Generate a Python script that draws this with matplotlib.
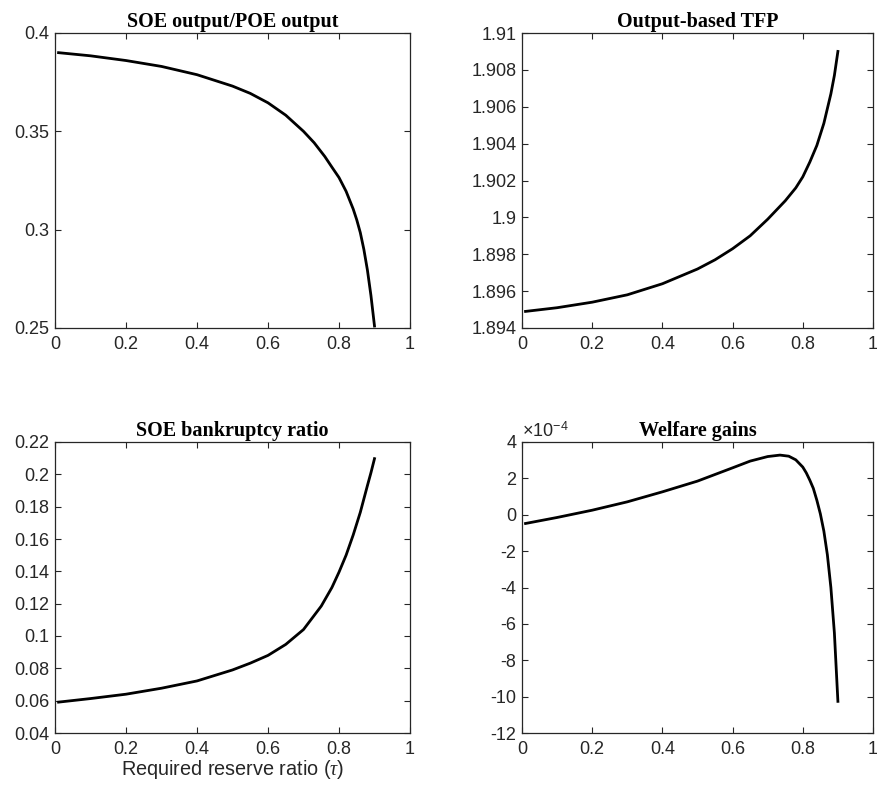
import matplotlib
matplotlib.use("Agg")
import matplotlib.pyplot as plt
from matplotlib.ticker import FuncFormatter

plt.rcParams['font.family'] = ['Liberation Sans', 'DejaVu Sans']
plt.rcParams['axes.unicode_minus'] = False
plt.rcParams['mathtext.fontset'] = 'custom'
plt.rcParams['mathtext.it'] = 'Liberation Serif:italic'
plt.rcParams['mathtext.rm'] = 'Liberation Sans'

# Data
tau_a = [0.01, 0.1, 0.2, 0.3, 0.4, 0.5, 0.55, 0.6, 0.65, 0.7, 0.73, 0.76, 0.78, 0.8,
         0.82, 0.84, 0.85, 0.86, 0.87, 0.88, 0.89, 0.9]
soe_poe = [0.3900, 0.3884, 0.3860, 0.3830, 0.3788, 0.3730, 0.3693, 0.3645, 0.3582,
           0.3500, 0.3442, 0.3372, 0.3318, 0.3265, 0.3195, 0.3105, 0.3050, 0.2985,
           0.2900, 0.2795, 0.2665, 0.2510]

tau_b = [0.01, 0.1, 0.2, 0.3, 0.4, 0.5, 0.55, 0.6, 0.65, 0.7, 0.75, 0.78, 0.8, 0.82,
         0.84, 0.86, 0.88, 0.89, 0.9]
tfp = [1.8949, 1.8951, 1.8954, 1.8958, 1.8964, 1.8972, 1.8977, 1.8983, 1.8990,
       1.8999, 1.9009, 1.9016, 1.9022, 1.9030, 1.9039, 1.9051, 1.9067, 1.9077, 1.9090]

tau_c = [0.01, 0.1, 0.2, 0.3, 0.4, 0.5, 0.55, 0.6, 0.65, 0.7, 0.75, 0.78, 0.8, 0.82,
         0.84, 0.86, 0.88, 0.89, 0.9]
bankruptcy = [0.0591, 0.0613, 0.0640, 0.0677, 0.0722, 0.0790, 0.0832, 0.0880,
              0.0948, 0.1040, 0.1185, 0.1300, 0.1395, 0.1500, 0.1625, 0.1765,
              0.1930, 0.2010, 0.2097]

tau_d = [0.01, 0.1, 0.2, 0.3, 0.4, 0.5, 0.6, 0.65, 0.7, 0.735, 0.76, 0.78, 0.8,
         0.81, 0.82, 0.83, 0.84, 0.85, 0.86, 0.87, 0.88, 0.89, 0.9]
welfare = [-0.48, -0.15, 0.25, 0.71, 1.26, 1.85, 2.58, 2.95, 3.20, 3.28, 3.22, 3.02,
           2.62, 2.30, 1.90, 1.45, 0.80, 0.05, -0.90, -2.20, -4.00, -6.50, -10.26]
welfare_scaled = [w * 1e-4 for w in welfare]

xticks = [0, 0.2, 0.4, 0.6, 0.8, 1]

fig = plt.figure(figsize=(8.77, 7.86), dpi=100)
W, H = 877, 786

def add_ax(l, r, t, b):
    return fig.add_axes([l / W, 1 - b / H, (r - l) / W, (b - t) / H])

ax1 = add_ax(55, 410, 33, 328)
ax2 = add_ax(522, 873, 33, 328)
ax3 = add_ax(55, 410, 442, 733)
ax4 = add_ax(522, 873, 442, 733)

fmt = FuncFormatter(lambda v, p: ('%g' % round(v, 6)))

panels = [
    (ax1, tau_a, soe_poe, 'SOE output/POE output', (0.25, 0.4), [0.25, 0.3, 0.35, 0.4]),
    (ax2, tau_b, tfp, 'Output-based TFP', (1.894, 1.91),
     [1.894, 1.896, 1.898, 1.9, 1.902, 1.904, 1.906, 1.908, 1.91]),
    (ax3, tau_c, bankruptcy, 'SOE bankruptcy ratio', (0.04, 0.22),
     [0.04, 0.06, 0.08, 0.1, 0.12, 0.14, 0.16, 0.18, 0.2, 0.22]),
    (ax4, tau_d, welfare_scaled, 'Welfare gains', (-12e-4, 4e-4),
     [v * 1e-4 for v in range(-12, 5, 2)]),
]

for ax, x, y, title, ylim, yt in panels:
    ax.plot(x, y, color='black', lw=2.0, solid_joinstyle='round')
    ax.set_xlim(0, 1)
    ax.set_ylim(*ylim)
    ax.set_xticks(xticks)
    ax.set_yticks(yt)
    ax.xaxis.set_major_formatter(fmt)
    ax.tick_params(direction='in', top=True, right=True, length=4.5, width=0.8,
                   labelsize=13, colors='#262626', pad=4)
    ax.tick_params(axis='x', pad=6)
    for s in ax.spines.values():
        s.set_color('#262626')
        s.set_linewidth(0.9)
    ax.set_title(title, fontfamily='Liberation Serif', fontweight='bold',
                 fontsize=14.5, pad=4)
    if ax is not ax4:
        ax.yaxis.set_major_formatter(fmt)

ax4.yaxis.set_major_formatter(FuncFormatter(lambda v, p: '%d' % round(v * 1e4)))
ax4.text(0.0, 1.005, r'$\times$10$^{\mathregular{-4}}$', transform=ax4.transAxes,
         fontsize=13, color='#262626', ha='left', va='bottom')

ax3.set_xlabel(r'Required reserve ratio ($\tau$)', fontsize=14.3, color='#262626',
               labelpad=0)

fig.savefig('out.png', dpi=100)
